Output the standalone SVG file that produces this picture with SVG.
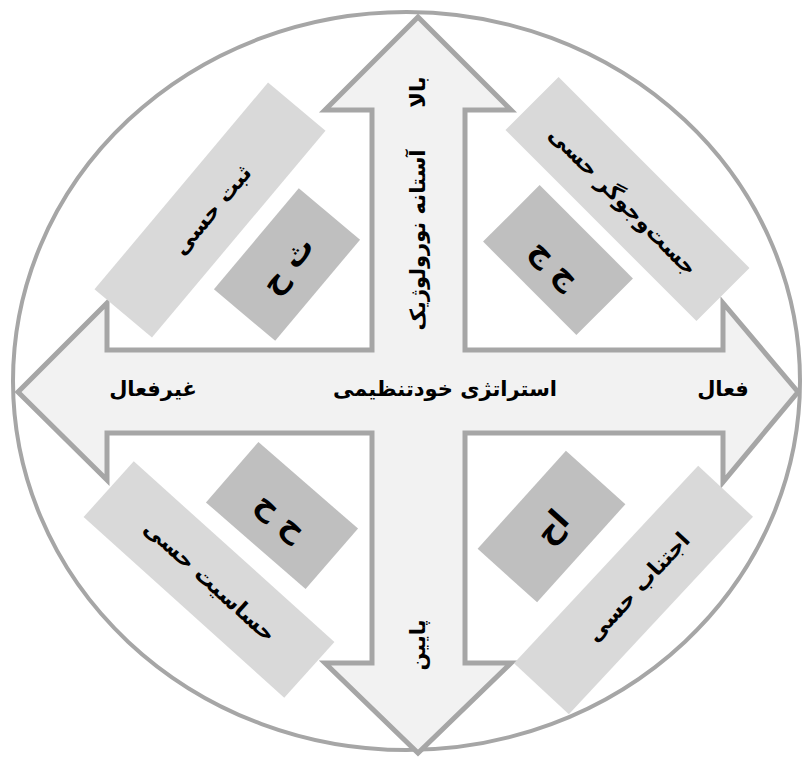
<svg xmlns="http://www.w3.org/2000/svg" width="803" height="758" viewBox="0 0 803 758">
<style>
.t{font-family:'DejaVu Sans','Noto Sans',sans-serif;font-weight:bold;fill:#000;text-anchor:middle;dominant-baseline:central}
.lt{font-size:22px}
.dk{font-size:31px}
.ax{font-size:21px}
.light{fill:#d9d9d9}
.dark{fill:#bfbfbf}
</style>
<rect width="803" height="758" fill="#fff"/>
<ellipse cx="406.5" cy="381" rx="393.5" ry="369" fill="#fff" stroke="#a6a6a6" stroke-width="4"/>
<g id="connectors">
<polygon points="418,17 511,110 465,110 465,350 723,350 723,303 798,392 723,482 723,433 465,433 465,663 511,663 418,753 325,663 372,663 372,433 107,433 107,480 18,392 107,303 107,350 372,350 372,110 325,110" fill="#f2f2f2" stroke="#a6a6a6" stroke-width="5" stroke-linejoin="miter"/>
</g>
<g id="axis-labels">
<text class="t ax" x="445" y="389">استراتژی خودتنظیمی</text>
<text class="t ax" x="153" y="389">غیرفعال</text>
<text class="t ax" x="723" y="389">فعال</text>
<text class="t ax" transform="translate(418,92) rotate(-90)">بالا</text>
<text class="t ax" transform="translate(418,240) rotate(-90)">آستانه نورولوژیک</text>
<text class="t ax" transform="translate(418,645) rotate(-90)">پایین</text>
</g>
<g id="node-tl">
<rect class="light" x="-135" y="-37.5" width="270" height="75" transform="translate(210,210) rotate(-50)"/>
<text class="t lt" transform="translate(212,210) rotate(-50)">ثبت حسی</text>
</g>
<g id="node-tl-code">
<rect class="dark" x="-66" y="-40" width="132" height="80" transform="translate(287,264.5) rotate(-50)"/>
<text class="t dk" transform="translate(287,264.5) rotate(-50)">ث ح</text>
</g>
<g id="node-tr">
<rect class="light" x="-135" y="-37.5" width="270" height="75" transform="translate(627.5,199) rotate(45)"/>
<text class="t lt" transform="translate(623,201) rotate(45)">جست‌وجوگر حسی</text>
</g>
<g id="node-tr-code">
<rect class="dark" x="-66" y="-40" width="132" height="80" transform="translate(558,260) rotate(45)"/>
<text class="t dk" transform="translate(556,263) rotate(45)">ج ج</text>
</g>
<g id="node-bl">
<rect class="light" x="-135" y="-37.5" width="270" height="75" transform="translate(209,579.5) rotate(42)"/>
<text class="t lt" transform="translate(210,581) rotate(42)">حساسیت حسی</text>
</g>
<g id="node-bl-code">
<rect class="dark" x="-66" y="-40" width="132" height="80" transform="translate(282,515.5) rotate(41)"/>
<text class="t dk" transform="translate(282,515.5) rotate(41)">ح ح</text>
</g>
<g id="node-br">
<rect class="light" x="-135" y="-37.5" width="270" height="75" transform="translate(633.5,590) rotate(-47)"/>
<text class="t lt" transform="translate(638,587) rotate(-47)">اجتناب حسی</text>
</g>
<g id="node-br-code">
<rect class="dark" x="-66" y="-40" width="132" height="80" transform="translate(551.5,526.5) rotate(-48)"/>
<text class="t dk" transform="translate(551.5,526.5) rotate(-48)">اح</text>
</g>
</svg>
